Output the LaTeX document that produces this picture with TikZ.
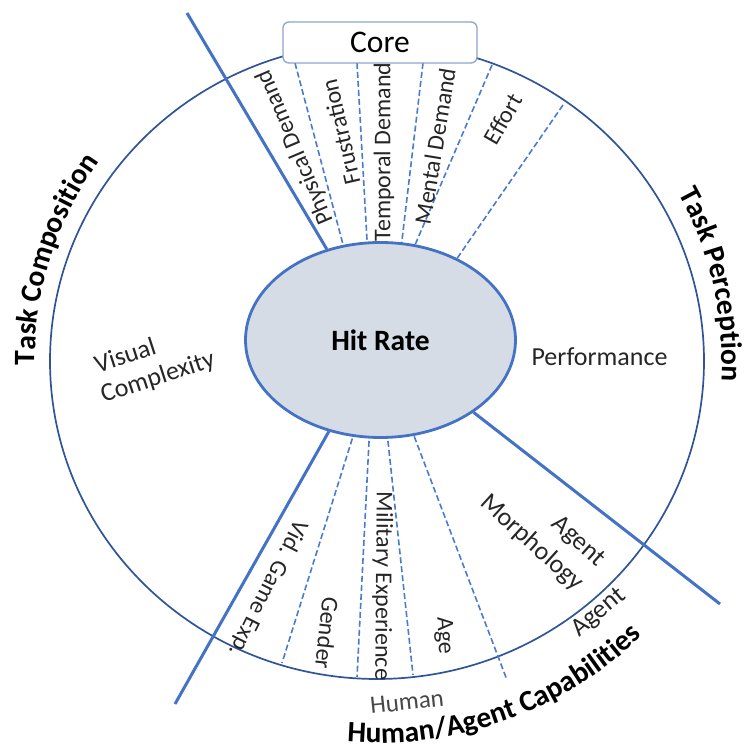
\documentclass[tikz,border=0pt]{standalone}
\usepackage{fontspec}
\setmainfont{Carlito}
\usetikzlibrary{shapes.geometric,decorations.text}
\pgfdeclarelayer{bg}
\pgfsetlayers{bg,main}
\definecolor{ringblue}{HTML}{2F5597}
\definecolor{lineblue}{HTML}{4472C4}
\definecolor{dashblue}{HTML}{4A7BD0}
\definecolor{hitfill}{HTML}{D6DCE5}
\definecolor{corebd}{HTML}{8EA4CC}
\definecolor{labelgray}{HTML}{262626}
\newcommand\hdrfont{\bfseries\fontsize{29.5}{35}\selectfont}
\begin{document}
\begin{tikzpicture}[x=1pt,y=1pt,
  ring/.style={draw=ringblue, line width=1.7pt, ellipse, inner sep=0pt},
  solidline/.style={draw=lineblue, line width=3pt},
  dashline/.style={draw=dashblue, line width=1.6pt, dash pattern=on 6pt off 3pt},
  slab/.style={text=labelgray, font=\fontsize{24}{28}\selectfont, inner sep=0pt},
  biglab/.style={text=labelgray, font=\fontsize{26}{31}\selectfont, inner sep=0pt},
  curvehdr/.style={decorate, decoration={text along path, text align=left, text={|\hdrfont|#1}}}
]
\useasboundingbox (0,0) rectangle (747,753);

% main layer nodes
\node[ellipse, draw=lineblue, line width=2.8pt, fill=hitfill, minimum width=270pt,
      minimum height=195pt, inner sep=0pt, text=black,
      font=\bfseries\fontsize{29.5}{35}\selectfont] (hit) at (380.5,413) {Hit Rate};
\node[draw=corebd, line width=1.3pt, rounded corners=6pt, fill=white, minimum width=194pt,
      minimum height=41pt, inner sep=0pt, text=black,
      font=\fontsize{31.5}{37}\selectfont] (core) at (380,710.5) {Core};

\begin{pgfonlayer}{bg}
\node[ring, minimum width=654pt, minimum height=636pt] (outer) at (377,392) {};

% top dashed dividers
\coordinate (t1) at (295,690); \coordinate (t1e) at (345,501);
\coordinate (t2) at (357,690); \coordinate (t2e) at (367.7,501);
\coordinate (t3) at (423,690); \coordinate (t3e) at (400.6,501);
\coordinate (t4) at (492,688); \coordinate (t4e) at (412,501);
\coordinate (t5) at (563,648); \coordinate (t5e) at (452.5,488);
\foreach \a in {1,...,5} \draw[dashline] (t\a) -- (t\a e);

% bottom dashed dividers
\coordinate (b1) at (355,323); \coordinate (b1e) at (282,90);
\coordinate (b2) at (369.5,321); \coordinate (b2e) at (357,76);
\coordinate (b3) at (387,321); \coordinate (b3e) at (413,78);
\coordinate (b4) at (411,325); \coordinate (b4e) at (507,73);
\foreach \a in {1,...,4} \draw[dashline] (b\a) -- (b\a e);

% solid sector lines
\coordinate (l1) at (187,740);
\coordinate (l2) at (175,49);
\coordinate (l3) at (720,149);
\draw[solidline] (l1) -- (hit);
\draw[solidline] (l2) -- (hit);
\draw[solidline] (l3) -- (hit);

% core labels
\node[slab, rotate=113] (pd) at (295,606) {Physical Demand};
\node[slab, rotate=103] (fr) at (340.5,621) {Frustration};
\node[slab, rotate=90] (td) at (384,601) {Temporal Demand};
\node[slab, rotate=80.6] (md) at (435,607) {Mental Demand};
\node[slab, rotate=60] (ef) at (503,634) {Effort};
\end{pgfonlayer}

% human labels
\node[slab, rotate=-116.6] (vg) at (268,165) {Vid. Game Exp.};
\node[slab, rotate=-96] (ge) at (327,120) {Gender};
\node[slab, rotate=-90.5] (me) at (382.5,167) {Military Experience};
\node[slab, rotate=-87] (ag) at (444,117) {Age};

% agent labels
\node[biglab, rotate=-42] (am1) at (578,211) {Agent};
\node[biglab, rotate=-42] (am2) at (532,210) {Morphology};
\node[biglab, rotate=40] (agt) at (599,140) {Agent};
\node[text=labelgray!85, font=\fontsize{25}{29}\selectfont, inner sep=0pt, rotate=6] (hum) at (407,51) {Human};

% side labels
\node[biglab, rotate=18] (vc1) at (125,398) {Visual};
\node[biglab, rotate=18] (vc2) at (158,375) {Complexity};
\node[biglab] (perf) at (599.5,396) {Performance};

% curved headers
\path[curvehdr={Human/Agent Capabilities}] (377,392) ++(265.5:382) arc[start angle=265.5, end angle=335, radius=382];
\path[curvehdr={Task Composition}] (377,392) ++(180.7:342) arc[start angle=180.7, end angle=110, radius=342];
\path[curvehdr={Task Perception}] (377,392) ++(29:345) arc[start angle=29, end angle=-30, radius=345];
\end{tikzpicture}
\end{document}
